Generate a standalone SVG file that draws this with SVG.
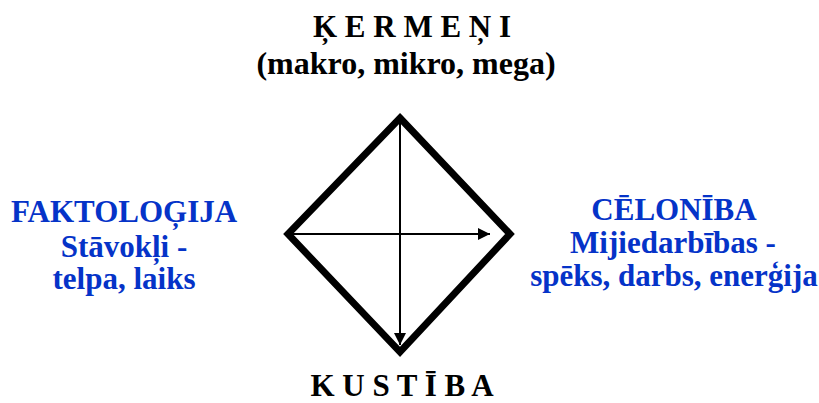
<svg xmlns="http://www.w3.org/2000/svg" width="819" height="403" viewBox="0 0 819 403">
<style>
.k{fill:#000}
.b{fill:#0533c8}
.ax{stroke:#000;stroke-width:2;fill:none}
</style>
<defs>
<marker id="ah" viewBox="0 0 12 12" refX="12" refY="6" markerWidth="12" markerHeight="12" markerUnits="userSpaceOnUse" orient="auto">
<path d="M0,0 L12,6 L0,12 Z" fill="#000"/>
</marker>
</defs>
<rect width="819" height="403" fill="#fff"/>
<g id="diamond">
<polygon points="400,118 510,234 400,352 288,234" fill="none" stroke="#000" stroke-width="7" stroke-linejoin="miter"/>
</g>
<g id="connectors">
<line class="ax" x1="400" y1="117" x2="400" y2="345" marker-end="url(#ah)"/>
<line class="ax" x1="288" y1="234" x2="490" y2="234" marker-end="url(#ah)"/>
</g>
<g font-family="'Liberation Serif', serif" font-weight="bold" font-size="31" text-anchor="middle">
<g id="kermeni">
<text class="k" x="412" y="37">Ķ E R M E Ņ I</text>
<text class="k" x="406" y="74" font-size="32">(makro, mikro, mega)</text>
</g>
<g id="faktologija">
<text class="b" x="124" y="222">FAKTOLOĢIJA</text>
<text class="b" x="124" y="257">Stāvokļi -</text>
<text class="b" x="124" y="289">telpa, laiks</text>
</g>
<g id="celoniba">
<text class="b" x="674" y="220">CĒLONĪBA</text>
<text class="b" x="673" y="253">Mijiedarbības -</text>
<text class="b" x="674" y="286">spēks, darbs, enerģija</text>
</g>
<g id="kustiba">
<text class="k" x="402" y="396">K U S T Ī B A</text>
</g>
</g>
</svg>
